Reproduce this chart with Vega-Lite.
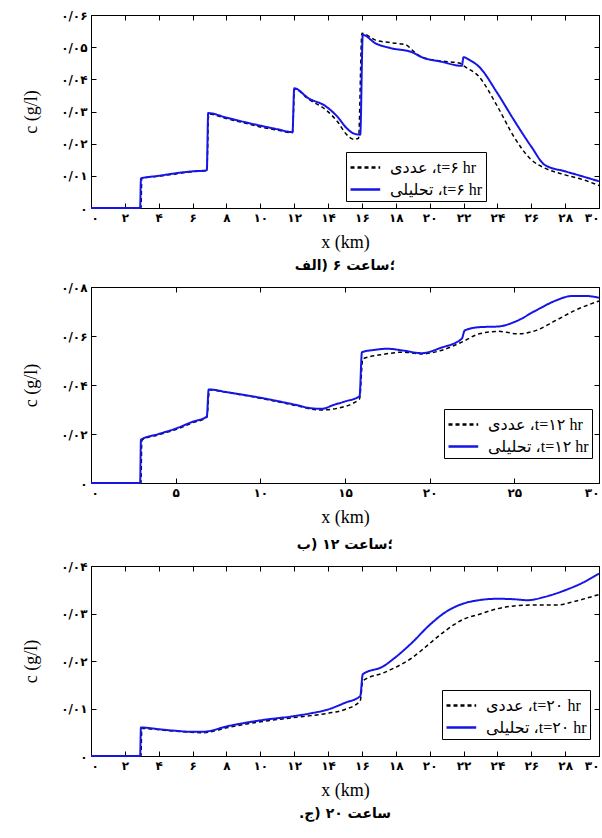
{
  "$schema": "https://vega.github.io/schema/vega-lite/v6.json",
  "background": "white",
  "padding": {"left": 22, "right": 2, "top": 8, "bottom": 0},
  "spacing": 6,
  "config": {
    "font": "Liberation Serif",
    "view": {"stroke": "#000", "strokeWidth": 1},
    "axis": {
      "grid": false,
      "labelFont": "DejaVu Sans",
      "labelFontWeight": "bold",
      "labelFontSize": 12,
      "labelColor": "#000",
      "titleFont": "Liberation Serif",
      "titleFontSize": 18,
      "titleFontWeight": "normal",
      "titleColor": "#000",
      "tickColor": "#000",
      "domainColor": "#000",
      "tickSize": -5,
      "labelPadding": 9
    },
    "axisBottom": {"titlePadding": 10},
    "legend": {
      "orient": "none",
      "strokeColor": "#000",
      "fillColor": "#fff",
      "padding": 3,
      "rowPadding": 1,
      "labelFont": "Liberation Serif, DejaVu Sans",
      "labelFontSize": 16,
      "labelColor": "#000",
      "labelLimit": 300,
      "labelOffset": 16,
      "symbolType": "M-1,0H1.7",
      "symbolSize": 484,
      "symbolStrokeWidth": 2.5,
      "title": null
    },
    "title": {"font": "DejaVu Sans", "fontSize": 14, "fontWeight": "bold", "color": "#000", "orient": "bottom", "anchor": "middle", "offset": 8}
  },
  "datasets": {
    "p1": [
      {"x": 0, "c": 0, "s": "num"}, {"x": 2.95, "c": 0, "s": "num"}, {"x": 3.0, "c": 0.0092, "s": "num"}, {"x": 4, "c": 0.0099, "s": "num"}, {"x": 5, "c": 0.0106, "s": "num"}, {"x": 6, "c": 0.0113, "s": "num"}, {"x": 6.84, "c": 0.0116, "s": "num"}, {"x": 6.95, "c": 0.0292, "s": "num"}, {"x": 8, "c": 0.0278, "s": "num"}, {"x": 9, "c": 0.0265, "s": "num"}, {"x": 10, "c": 0.0252, "s": "num"}, {"x": 11, "c": 0.0242, "s": "num"}, {"x": 11.9, "c": 0.0234, "s": "num"}, {"x": 12.02, "c": 0.037, "s": "num"}, {"x": 12.85, "c": 0.0338, "s": "num"}, {"x": 13.87, "c": 0.0305, "s": "num"}, {"x": 14.55, "c": 0.0269, "s": "num"}, {"x": 15.1, "c": 0.0228, "s": "num"}, {"x": 15.5, "c": 0.0214, "s": "num"}, {"x": 15.8, "c": 0.0217, "s": "num"}, {"x": 16.0, "c": 0.0543, "s": "num"}, {"x": 16.8, "c": 0.0522, "s": "num"}, {"x": 17.7, "c": 0.0514, "s": "num"}, {"x": 18.6, "c": 0.0507, "s": "num"}, {"x": 18.97, "c": 0.0491, "s": "num"}, {"x": 19.53, "c": 0.0469, "s": "num"}, {"x": 20.67, "c": 0.0457, "s": "num"}, {"x": 21.8, "c": 0.045, "s": "num"}, {"x": 22.0, "c": 0.0442, "s": "num"}, {"x": 22.9, "c": 0.0409, "s": "num"}, {"x": 24.0, "c": 0.0316, "s": "num"}, {"x": 24.97, "c": 0.0222, "s": "num"}, {"x": 26.0, "c": 0.015, "s": "num"}, {"x": 26.8, "c": 0.0124, "s": "num"}, {"x": 28.0, "c": 0.0103, "s": "num"}, {"x": 29.05, "c": 0.0088, "s": "num"}, {"x": 30, "c": 0.007, "s": "num"},
      {"x": 0, "c": 0, "s": "ana"}, {"x": 2.9, "c": 0, "s": "ana"}, {"x": 2.95, "c": 0.0092, "s": "ana"}, {"x": 4, "c": 0.01, "s": "ana"}, {"x": 5, "c": 0.0108, "s": "ana"}, {"x": 6, "c": 0.0114, "s": "ana"}, {"x": 6.84, "c": 0.0117, "s": "ana"}, {"x": 6.92, "c": 0.0295, "s": "ana"}, {"x": 8, "c": 0.0281, "s": "ana"}, {"x": 9, "c": 0.0268, "s": "ana"}, {"x": 10, "c": 0.0256, "s": "ana"}, {"x": 11, "c": 0.0245, "s": "ana"}, {"x": 11.9, "c": 0.0236, "s": "ana"}, {"x": 12.0, "c": 0.0372, "s": "ana"}, {"x": 12.85, "c": 0.0341, "s": "ana"}, {"x": 13.87, "c": 0.0316, "s": "ana"}, {"x": 14.55, "c": 0.0284, "s": "ana"}, {"x": 15.1, "c": 0.0248, "s": "ana"}, {"x": 15.5, "c": 0.0232, "s": "ana"}, {"x": 15.9, "c": 0.0228, "s": "ana"}, {"x": 16.05, "c": 0.0538, "s": "ana"}, {"x": 16.8, "c": 0.0512, "s": "ana"}, {"x": 17.7, "c": 0.0497, "s": "ana"}, {"x": 18.97, "c": 0.0484, "s": "ana"}, {"x": 19.53, "c": 0.0469, "s": "ana"}, {"x": 20.67, "c": 0.0455, "s": "ana"}, {"x": 21.9, "c": 0.0442, "s": "ana"}, {"x": 22.0, "c": 0.0469, "s": "ana"}, {"x": 22.36, "c": 0.046, "s": "ana"}, {"x": 22.9, "c": 0.044, "s": "ana"}, {"x": 24.0, "c": 0.0357, "s": "ana"}, {"x": 24.97, "c": 0.0274, "s": "ana"}, {"x": 26.0, "c": 0.0191, "s": "ana"}, {"x": 26.8, "c": 0.0134, "s": "ana"}, {"x": 28.0, "c": 0.0114, "s": "ana"}, {"x": 29.05, "c": 0.0098, "s": "ana"}, {"x": 30, "c": 0.0083, "s": "ana"}
    ],
    "p2": [
      {"x": 0, "c": 0, "s": "num"}, {"x": 2.95, "c": 0, "s": "num"}, {"x": 3.0, "c": 0.0175, "s": "num"}, {"x": 4, "c": 0.0197, "s": "num"}, {"x": 5, "c": 0.0218, "s": "num"}, {"x": 6, "c": 0.0246, "s": "num"}, {"x": 6.84, "c": 0.0268, "s": "num"}, {"x": 7.0, "c": 0.038, "s": "num"}, {"x": 8, "c": 0.037, "s": "num"}, {"x": 10, "c": 0.0346, "s": "num"}, {"x": 12.28, "c": 0.0313, "s": "num"}, {"x": 13.0, "c": 0.0302, "s": "num"}, {"x": 13.64, "c": 0.0298, "s": "num"}, {"x": 14.55, "c": 0.0305, "s": "num"}, {"x": 15.86, "c": 0.0343, "s": "num"}, {"x": 16.05, "c": 0.0507, "s": "num"}, {"x": 17.27, "c": 0.0525, "s": "num"}, {"x": 18.4, "c": 0.0534, "s": "num"}, {"x": 19.53, "c": 0.0527, "s": "num"}, {"x": 20.67, "c": 0.0541, "s": "num"}, {"x": 21.9, "c": 0.0575, "s": "num"}, {"x": 22.93, "c": 0.0609, "s": "num"}, {"x": 24.07, "c": 0.0619, "s": "num"}, {"x": 25.2, "c": 0.0609, "s": "num"}, {"x": 26.3, "c": 0.0623, "s": "num"}, {"x": 27.46, "c": 0.0664, "s": "num"}, {"x": 28.6, "c": 0.0705, "s": "num"}, {"x": 30, "c": 0.0743, "s": "num"},
      {"x": 0, "c": 0, "s": "ana"}, {"x": 2.9, "c": 0, "s": "ana"}, {"x": 2.95, "c": 0.0177, "s": "ana"}, {"x": 4, "c": 0.02, "s": "ana"}, {"x": 5, "c": 0.0222, "s": "ana"}, {"x": 6, "c": 0.025, "s": "ana"}, {"x": 6.84, "c": 0.0271, "s": "ana"}, {"x": 6.95, "c": 0.0382, "s": "ana"}, {"x": 8, "c": 0.0371, "s": "ana"}, {"x": 10, "c": 0.0348, "s": "ana"}, {"x": 12.28, "c": 0.0316, "s": "ana"}, {"x": 13.0, "c": 0.0305, "s": "ana"}, {"x": 13.64, "c": 0.0303, "s": "ana"}, {"x": 14.3, "c": 0.0318, "s": "ana"}, {"x": 15.0, "c": 0.0333, "s": "ana"}, {"x": 15.86, "c": 0.0354, "s": "ana"}, {"x": 16.0, "c": 0.0534, "s": "ana"}, {"x": 16.7, "c": 0.0543, "s": "ana"}, {"x": 17.5, "c": 0.0548, "s": "ana"}, {"x": 18.4, "c": 0.0541, "s": "ana"}, {"x": 19.53, "c": 0.053, "s": "ana"}, {"x": 20.67, "c": 0.0552, "s": "ana"}, {"x": 21.9, "c": 0.0589, "s": "ana"}, {"x": 22.07, "c": 0.0623, "s": "ana"}, {"x": 22.93, "c": 0.0636, "s": "ana"}, {"x": 24.07, "c": 0.0639, "s": "ana"}, {"x": 25.0, "c": 0.0657, "s": "ana"}, {"x": 26.3, "c": 0.0705, "s": "ana"}, {"x": 27.46, "c": 0.0745, "s": "ana"}, {"x": 28.37, "c": 0.0763, "s": "ana"}, {"x": 29.3, "c": 0.0763, "s": "ana"}, {"x": 30, "c": 0.0756, "s": "ana"}
    ],
    "p3": [
      {"x": 0, "c": 0, "s": "num"}, {"x": 2.95, "c": 0, "s": "num"}, {"x": 3.0, "c": 0.0058, "s": "num"}, {"x": 4.12, "c": 0.0055, "s": "num"}, {"x": 5.0, "c": 0.0052, "s": "num"}, {"x": 5.94, "c": 0.005, "s": "num"}, {"x": 6.6, "c": 0.0049, "s": "num"}, {"x": 8.1, "c": 0.006, "s": "num"}, {"x": 10, "c": 0.0072, "s": "num"}, {"x": 12, "c": 0.0081, "s": "num"}, {"x": 13, "c": 0.0085, "s": "num"}, {"x": 14, "c": 0.009, "s": "num"}, {"x": 15, "c": 0.0098, "s": "num"}, {"x": 15.9, "c": 0.0116, "s": "num"}, {"x": 16.05, "c": 0.0158, "s": "num"}, {"x": 17.27, "c": 0.0175, "s": "num"}, {"x": 17.95, "c": 0.0186, "s": "num"}, {"x": 18.97, "c": 0.0207, "s": "num"}, {"x": 19.94, "c": 0.0235, "s": "num"}, {"x": 20.9, "c": 0.0263, "s": "num"}, {"x": 22, "c": 0.0288, "s": "num"}, {"x": 22.9, "c": 0.0298, "s": "num"}, {"x": 24, "c": 0.031, "s": "num"}, {"x": 25, "c": 0.0316, "s": "num"}, {"x": 26.3, "c": 0.0318, "s": "num"}, {"x": 27.5, "c": 0.0318, "s": "num"}, {"x": 28.6, "c": 0.0326, "s": "num"}, {"x": 30, "c": 0.034, "s": "num"},
      {"x": 0, "c": 0, "s": "ana"}, {"x": 2.9, "c": 0, "s": "ana"}, {"x": 2.95, "c": 0.006, "s": "ana"}, {"x": 4.12, "c": 0.0056, "s": "ana"}, {"x": 5.0, "c": 0.0053, "s": "ana"}, {"x": 5.94, "c": 0.0051, "s": "ana"}, {"x": 6.6, "c": 0.0051, "s": "ana"}, {"x": 8.1, "c": 0.0063, "s": "ana"}, {"x": 10, "c": 0.0075, "s": "ana"}, {"x": 12, "c": 0.0084, "s": "ana"}, {"x": 13, "c": 0.009, "s": "ana"}, {"x": 14, "c": 0.0098, "s": "ana"}, {"x": 15, "c": 0.0112, "s": "ana"}, {"x": 15.9, "c": 0.0126, "s": "ana"}, {"x": 16.05, "c": 0.0172, "s": "ana"}, {"x": 17.27, "c": 0.0189, "s": "ana"}, {"x": 17.95, "c": 0.0207, "s": "ana"}, {"x": 18.97, "c": 0.0239, "s": "ana"}, {"x": 19.94, "c": 0.0274, "s": "ana"}, {"x": 20.9, "c": 0.0302, "s": "ana"}, {"x": 22, "c": 0.0321, "s": "ana"}, {"x": 22.9, "c": 0.0328, "s": "ana"}, {"x": 24, "c": 0.0331, "s": "ana"}, {"x": 25, "c": 0.033, "s": "ana"}, {"x": 25.8, "c": 0.0328, "s": "ana"}, {"x": 26.8, "c": 0.0335, "s": "ana"}, {"x": 28, "c": 0.0349, "s": "ana"}, {"x": 29.05, "c": 0.0365, "s": "ana"}, {"x": 30, "c": 0.0384, "s": "ana"}
    ]
  },
  "vconcat": [
    {
      "width": 508, "height": 193,
      "data": {"name": "p1"},
      "title": {"text": "؛ساعت ۶ (الف"},
      "layer": [
        {
          "mark": {"type": "line", "interpolate": "monotone"},
          "encoding": {
            "x": {"field": "x", "type": "quantitative", "scale": {"domain": [0, 30], "nice": false}, "axis": {"title": "x (km)", "values": [0,2,4,6,8,10,12,14,16,18,20,22,24,26,28,30], "labelFlush": true, "labelExpr": "replace(replace(replace(replace(replace(replace(replace(replace(replace(replace(toString(datum.value),regexp('0','g'),'۰'),regexp('1','g'),'۱'),regexp('2','g'),'۲'),regexp('3','g'),'۳'),regexp('4','g'),'۴'),regexp('5','g'),'۵'),regexp('6','g'),'۶'),regexp('7','g'),'۷'),regexp('8','g'),'۸'),regexp('9','g'),'۹')"}},
            "y": {"field": "c", "type": "quantitative", "scale": {"domain": [0, 0.06], "nice": false}, "axis": {"title": "c (g/l)", "titlePadding": 20, "values": [0,0.01,0.02,0.03,0.04,0.05,0.06], "labelExpr": "datum.value == 0 ? '۰' : '۰/۰' + ['۰','۱','۲','۳','۴','۵','۶','۷','۸','۹'][round(datum.value*100)]"}},
            "color": {"field": "s", "type": "nominal", "scale": {"domain": ["num", "ana"], "range": ["#000000", "#1515e8"]}, "legend": {"legendX": 255, "legendY": 137, "labelExpr": "datum.value == 'num' ? 'عددی ،t=۶ hr' : 'تحلیلی ،t=۶ hr'"}},
            "strokeDash": {"field": "s", "type": "nominal", "scale": {"domain": ["num", "ana"], "range": [[4, 3], [1, 0]]}, "legend": {"legendX": 255, "legendY": 137, "labelExpr": "datum.value == 'num' ? 'عددی ،t=۶ hr' : 'تحلیلی ،t=۶ hr'"}},
            "strokeWidth": {"field": "s", "type": "nominal", "scale": {"domain": ["num", "ana"], "range": [1.5, 2]}, "legend": null}
          }
        },
        {
          "mark": {"type": "line", "opacity": 0},
          "encoding": {
            "x": {"field": "x", "type": "quantitative", "axis": {"orient": "top", "labels": false, "title": null, "domain": false, "values": [0,2,4,6,8,10,12,14,16,18,20,22,24,26,28,30]}},
            "y": {"field": "c", "type": "quantitative", "axis": {"orient": "right", "labels": false, "title": null, "domain": false, "values": [0,0.01,0.02,0.03,0.04,0.05,0.06]}}
          }
        }
      ],
      "resolve": {"axis": {"x": "independent", "y": "independent"}}
    },
    {
      "width": 508, "height": 196,
      "data": {"name": "p2"},
      "title": {"text": "؛ساعت ۱۲ (ب", "offset": 12},
      "layer": [
        {
          "mark": {"type": "line", "interpolate": "monotone"},
          "encoding": {
            "x": {"field": "x", "type": "quantitative", "scale": {"domain": [0, 30], "nice": false}, "axis": {"title": "x (km)", "values": [0,5,10,15,20,25,30], "labelFlush": true, "labelExpr": "replace(replace(replace(replace(replace(replace(replace(replace(replace(replace(toString(datum.value),regexp('0','g'),'۰'),regexp('1','g'),'۱'),regexp('2','g'),'۲'),regexp('3','g'),'۳'),regexp('4','g'),'۴'),regexp('5','g'),'۵'),regexp('6','g'),'۶'),regexp('7','g'),'۷'),regexp('8','g'),'۸'),regexp('9','g'),'۹')"}},
            "y": {"field": "c", "type": "quantitative", "scale": {"domain": [0, 0.08], "nice": false}, "axis": {"title": "c (g/l)", "titlePadding": 20, "values": [0,0.02,0.04,0.06,0.08], "labelExpr": "datum.value == 0 ? '۰' : '۰/۰' + ['۰','۱','۲','۳','۴','۵','۶','۷','۸','۹'][round(datum.value*100)]"}},
            "color": {"field": "s", "type": "nominal", "scale": {"domain": ["num", "ana"], "range": ["#000000", "#1515e8"]}, "legend": {"legendX": 353, "legendY": 122, "labelExpr": "datum.value == 'num' ? 'عددی ،t=۱۲ hr' : 'تحلیلی ،t=۱۲ hr'"}},
            "strokeDash": {"field": "s", "type": "nominal", "scale": {"domain": ["num", "ana"], "range": [[4, 3], [1, 0]]}, "legend": {"legendX": 353, "legendY": 122, "labelExpr": "datum.value == 'num' ? 'عددی ،t=۱۲ hr' : 'تحلیلی ،t=۱۲ hr'"}},
            "strokeWidth": {"field": "s", "type": "nominal", "scale": {"domain": ["num", "ana"], "range": [1.5, 2]}, "legend": null}
          }
        },
        {
          "mark": {"type": "line", "opacity": 0},
          "encoding": {
            "x": {"field": "x", "type": "quantitative", "axis": {"orient": "top", "labels": false, "title": null, "domain": false, "values": [0,5,10,15,20,25,30]}},
            "y": {"field": "c", "type": "quantitative", "axis": {"orient": "right", "labels": false, "title": null, "domain": false, "values": [0,0.02,0.04,0.06,0.08]}}
          }
        }
      ],
      "resolve": {"axis": {"x": "independent", "y": "independent"}}
    },
    {
      "width": 508, "height": 190,
      "data": {"name": "p3"},
      "title": {"text": ".ساعت ۲۰ (ج"},
      "layer": [
        {
          "mark": {"type": "line", "interpolate": "monotone"},
          "encoding": {
            "x": {"field": "x", "type": "quantitative", "scale": {"domain": [0, 30], "nice": false}, "axis": {"title": "x (km)", "values": [0,2,4,6,8,10,12,14,16,18,20,22,24,26,28,30], "labelFlush": true, "labelExpr": "replace(replace(replace(replace(replace(replace(replace(replace(replace(replace(toString(datum.value),regexp('0','g'),'۰'),regexp('1','g'),'۱'),regexp('2','g'),'۲'),regexp('3','g'),'۳'),regexp('4','g'),'۴'),regexp('5','g'),'۵'),regexp('6','g'),'۶'),regexp('7','g'),'۷'),regexp('8','g'),'۸'),regexp('9','g'),'۹')"}},
            "y": {"field": "c", "type": "quantitative", "scale": {"domain": [0, 0.04], "nice": false}, "axis": {"title": "c (g/l)", "titlePadding": 20, "values": [0,0.01,0.02,0.03,0.04], "labelExpr": "datum.value == 0 ? '۰' : '۰/۰' + ['۰','۱','۲','۳','۴','۵','۶','۷','۸','۹'][round(datum.value*100)]"}},
            "color": {"field": "s", "type": "nominal", "scale": {"domain": ["num", "ana"], "range": ["#000000", "#1515e8"]}, "legend": {"legendX": 351, "legendY": 124, "labelExpr": "datum.value == 'num' ? 'عددی ،t=۲۰ hr' : 'تحلیلی ،t=۲۰ hr'"}},
            "strokeDash": {"field": "s", "type": "nominal", "scale": {"domain": ["num", "ana"], "range": [[4, 3], [1, 0]]}, "legend": {"legendX": 351, "legendY": 124, "labelExpr": "datum.value == 'num' ? 'عددی ،t=۲۰ hr' : 'تحلیلی ،t=۲۰ hr'"}},
            "strokeWidth": {"field": "s", "type": "nominal", "scale": {"domain": ["num", "ana"], "range": [1.5, 2]}, "legend": null}
          }
        },
        {
          "mark": {"type": "line", "opacity": 0},
          "encoding": {
            "x": {"field": "x", "type": "quantitative", "axis": {"orient": "top", "labels": false, "title": null, "domain": false, "values": [0,2,4,6,8,10,12,14,16,18,20,22,24,26,28,30]}},
            "y": {"field": "c", "type": "quantitative", "axis": {"orient": "right", "labels": false, "title": null, "domain": false, "values": [0,0.01,0.02,0.03,0.04]}}
          }
        }
      ],
      "resolve": {"axis": {"x": "independent", "y": "independent"}}
    }
  ],
  "resolve": {"legend": {"color": "independent", "strokeDash": "independent"}}
}
